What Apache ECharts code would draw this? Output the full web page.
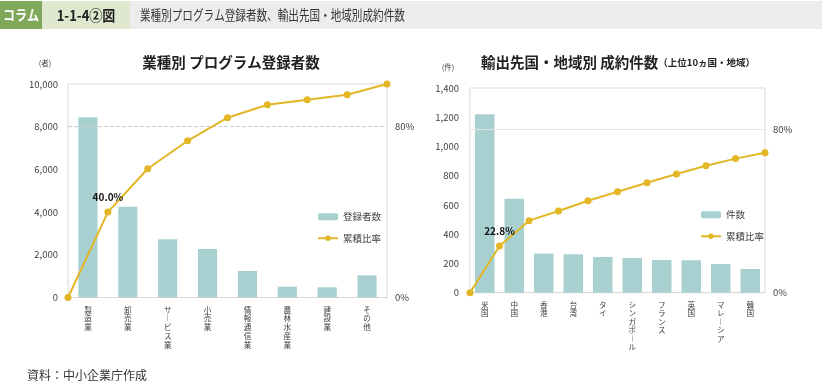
<!DOCTYPE html>
<html><head><meta charset="utf-8">
<script src="https://cdn.jsdelivr.net/npm/echarts@6/dist/echarts.min.js"></script>
<style>html,body{margin:0;padding:0;background:#fff}#c{width:822px;height:381px}</style>
</head><body><div id="c"></div>
<script>
const leftCategories = ['製造業','卸売業','サービス業','小売業','情報通信業','農林水産業','建設業','その他'];
const leftCounts = [8440,4250,2730,2270,1240,510,480,1040];
const leftCumPct = [0,40.0,60.3,73.4,84.2,90.3,92.6,95.0,100];
const leftTicks = {min:0,max:10000,interval:2000};

const rightCategories = ['米国','中国','香港','台湾','タイ','シンガポール','フランス','英国','マレーシア','韓国'];
const rightCounts = [1220,643,267,263,244,237,224,222,196,162];
const rightCumPct = [0,22.8,35.2,39.9,44.9,49.3,53.7,58.0,62.0,65.5,68.4];
const rightTicks = {min:0,max:1400,interval:200};

const FONT = '"Noto Sans CJK JP","Noto Sans",sans-serif';
const BAR = '#a9d0d0', LINE = '#e2b624', TXT = '#404040', GRID = '#d9d9d9';
const vert = s => s.split('').map(c => c === 'ー' ? '︱' : c).join('\n');
const fmtNum = v => v.toLocaleString('en-US');
const pctFmt = v => (v === 0 || v === 80) ? v + '%' : '';

const chart = echarts.init(document.getElementById('c'));
function lineData(arr, labelIdx, labelText){
  return arr.map((v,i) => i === labelIdx ? {value:v, label:{show:true, position:'top', distance:6, formatter:labelText, fontWeight:'bold', fontSize:10, color:'#111', fontFamily:FONT}} : v);
}
chart.setOption({
  animation:false,
  textStyle:{fontFamily:FONT},
  title:[
    {text:'業種別 プログラム登録者数', left:226, top:50, textAlign:'center',
     textStyle:{fontSize:14.5, fontWeight:'bold', color:'#222', fontFamily:FONT}},
    {text:'{a|輸出先国・地域別 成約件数}{b|（上位10ヵ国・地域）}', left:476, top:50,
     textStyle:{rich:{a:{fontSize:14.5, fontWeight:'bold', color:'#222', fontFamily:FONT},
                      b:{fontSize:9.5, fontWeight:'bold', color:'#222', fontFamily:FONT}}}}
  ],
  graphic:[
    {type:'rect', shape:{x:0,y:1,width:42,height:28}, style:{fill:'#80a85a'}},
    {type:'text', x:21, y:15, scaleY:1.15, style:{text:'コラム', fill:'#fff', font:'bold 12px '+FONT, textAlign:'center', textVerticalAlign:'middle'}},
    {type:'rect', shape:{x:42,y:1,width:88,height:28}, style:{fill:'#dfe8cf'}},
    {type:'text', x:86, y:15, scaleY:1.15, style:{text:'1-1-4②図', fill:'#222', font:'bold 13px '+FONT, textAlign:'center', textVerticalAlign:'middle'}},
    {type:'rect', shape:{x:130,y:1,width:692,height:28}, style:{fill:'#ececec'}},
    {type:'text', x:140, y:15, scaleY:1.25, style:{text:'業種別プログラム登録者数、輸出先国・地域別成約件数', fill:'#333', font:'10.6px '+FONT, textVerticalAlign:'middle'}},
    {type:'text', x:45, y:63, style:{text:'(者)', fill:TXT, font:'7.5px '+FONT, textAlign:'center', textVerticalAlign:'middle'}},
    {type:'text', x:448, y:67, style:{text:'(件)', fill:TXT, font:'7.5px '+FONT, textAlign:'center', textVerticalAlign:'middle'}},
    {type:'text', x:27, y:375, style:{text:'資料：中小企業庁作成', fill:'#333', font:'12px '+FONT, textVerticalAlign:'middle'}}
  ],
  legend:[
    {orient:'vertical', left:312, top:207, itemWidth:20, itemHeight:7, itemGap:12,
     data:['登録者数','累積比率'], textStyle:{fontSize:9.5, color:TXT, fontFamily:FONT}},
    {orient:'vertical', left:695, top:205, itemWidth:20, itemHeight:7, itemGap:12,
     data:['件数',{name:'累積比率'}], textStyle:{fontSize:9.5, color:TXT, fontFamily:FONT}}
  ],
  grid:[
    {left:68, right:435, top:84, bottom:83.5, show:true, borderColor:GRID, borderWidth:1, backgroundColor:'transparent'},
    {left:470, right:57, top:88, bottom:88.3, show:true, borderColor:GRID, borderWidth:1, backgroundColor:'transparent'}
  ],
  xAxis:[
    {type:'category', gridIndex:0, data:leftCategories, axisTick:{show:false},
     axisLine:{lineStyle:{color:GRID}},
     axisLabel:{interval:0, margin:8, formatter:vert, fontSize:7.6, lineHeight:8.7, color:TXT, fontFamily:FONT}},
    {type:'category', gridIndex:0, data:leftCumPct.map((_,i)=>String(i)), boundaryGap:false, show:false},
    {type:'category', gridIndex:1, data:rightCategories, axisTick:{show:false},
     axisLine:{lineStyle:{color:GRID}},
     axisLabel:{interval:0, margin:8, formatter:vert, fontSize:7.6, lineHeight:8.5, color:TXT, fontFamily:FONT}},
    {type:'category', gridIndex:1, data:rightCumPct.map((_,i)=>String(i)), boundaryGap:false, show:false}
  ],
  yAxis:[
    {type:'value', gridIndex:0, min:leftTicks.min, max:leftTicks.max, interval:leftTicks.interval,
     splitLine:{show:false}, axisLine:{show:false}, axisTick:{show:false},
     axisLabel:{formatter:fmtNum, fontSize:9.5, color:TXT, margin:10, fontFamily:FONT}},
    {type:'value', gridIndex:0, min:0, max:100, interval:20, position:'right',
     splitLine:{show:false}, axisLine:{show:false}, axisTick:{show:false},
     axisLabel:{formatter:pctFmt, fontSize:9.5, color:TXT, margin:8, fontFamily:FONT}},
    {type:'value', gridIndex:1, min:rightTicks.min, max:rightTicks.max, interval:rightTicks.interval,
     splitLine:{show:false}, axisLine:{show:false}, axisTick:{show:false},
     axisLabel:{formatter:fmtNum, fontSize:9.5, color:TXT, margin:11, fontFamily:FONT}},
    {type:'value', gridIndex:1, min:0, max:100, interval:20, position:'right',
     splitLine:{show:false}, axisLine:{show:false}, axisTick:{show:false},
     axisLabel:{formatter:pctFmt, fontSize:9.5, color:TXT, margin:8, fontFamily:FONT}}
  ],
  series:[
    {name:'登録者数', type:'bar', xAxisIndex:0, yAxisIndex:0, data:leftCounts, barWidth:'48%',
     itemStyle:{color:BAR}},
    {name:'累積比率', type:'line', xAxisIndex:1, yAxisIndex:1, data:lineData(leftCumPct,1,'40.0%'),
     symbol:'circle', symbolSize:7, itemStyle:{color:LINE}, lineStyle:{color:LINE, width:2}, z:5,
     markLine:{silent:true, symbol:'none', label:{show:false}, data:[{yAxis:80}],
       lineStyle:{color:'#cfcfcf', type:'dashed', width:1}}},
    {name:'件数', type:'bar', xAxisIndex:2, yAxisIndex:2, data:rightCounts, barWidth:'66%',
     itemStyle:{color:BAR}},
    {name:'累積比率', type:'line', xAxisIndex:3, yAxisIndex:3, data:lineData(rightCumPct,1,'22.8%'),
     symbol:'circle', symbolSize:7, itemStyle:{color:LINE}, lineStyle:{color:LINE, width:2}, z:5,
     markLine:{silent:true, symbol:'none', label:{show:false}, data:[{yAxis:80}],
       lineStyle:{color:'#e3e3e3', type:'solid', width:1}}}
  ]
});
</script></body></html>
